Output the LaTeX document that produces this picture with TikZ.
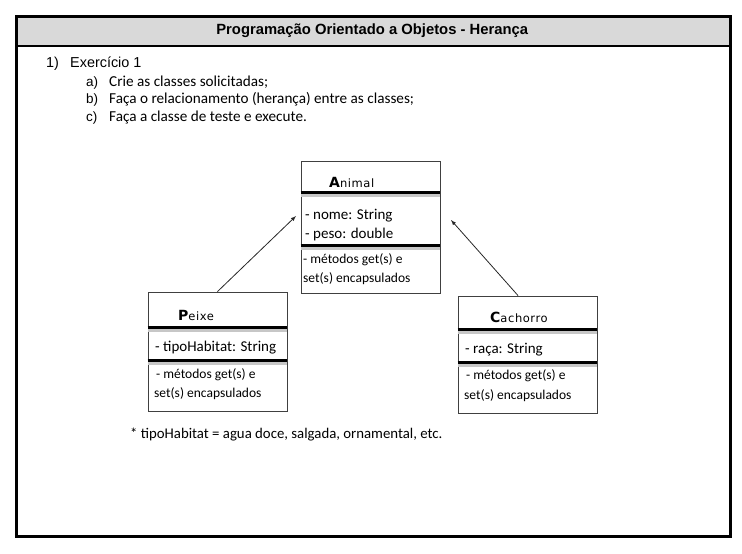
\documentclass[tikz,border=0pt]{standalone}
\usepackage{fontspec}
\setmainfont{Carlito}
\newfontfamily\arialfont{Liberation Sans}
\newfontfamily\namefont{DejaVu Sans}
\newfontfamily\namerest[LetterSpace=5]{DejaVu Sans}
\usepackage{tikz}
\usetikzlibrary{positioning}

\tikzset{
    classbox/.style={draw=black!75, line width=0.9pt, inner sep=0pt},
    sepline/.style={line width=3pt},
    sepshadow/.style={line width=3pt, black!22},
    cname/.style={inner sep=0pt, anchor=base west},
    attr/.style={cname, font=\fontsize{15}{17}\selectfont},
    meth/.style={cname, font=\fontsize{13.5}{15}\selectfont},
}
\newcommand{\classname}[2]{\namefont\fontsize{14}{15}\selectfont\textbf{#1}\namerest\fontsize{11.5}{13}\selectfont #2}

\begin{document}
\begin{tikzpicture}[x=1pt, y=-1pt]
    \useasboundingbox (0,0) rectangle (742,554);
    \node[fill=black!15, minimum width=714, minimum height=31, anchor=north west, inner sep=0pt] (header) at (15,15) {};
    \node[font=\arialfont\bfseries\fontsize{14.8}{17}\selectfont, inner sep=0pt] (titulo) at (header.center) {Programação Orientado a Objetos - Herança};
    \draw[line width=2pt] (header.south west) -- (header.south east);
    \node[draw, line width=2.5pt, minimum width=714, minimum height=520, anchor=north west, inner sep=0pt] (frame) at (15,15) {};

    \node[cname, font=\arialfont\fontsize{14.4}{16}\selectfont] (ex1num) at (46,67) {1)};
    \node[cname, font=\arialfont\fontsize{14.4}{16}\selectfont] (ex1) at (70,67) {Exercício 1};
    \foreach \l/\t [count=\i] in {a/{Crie as classes solicitadas;}, b/{Faça o relacionamento (herança) entre as classes;}, c/{Faça a classe de teste e execute.}} {
        \node[cname, font=\arialfont\fontsize{13.5}{15}\selectfont] (item\l) at (86,{86+17.5*(\i-1)}) {\l)};
        \node[cname, font=\fontsize{15.2}{17}\selectfont] (texto\l) at (109,{86+17.5*(\i-1)}) {\t};
    }

    % Animal
    \node[classbox, minimum width=139, minimum height=132] (animal) at (370.5,227) {};
    \foreach \d in {32,85} {
        \draw[sepshadow] ([yshift=-\d-3]animal.north west) -- ([yshift=-\d-3]animal.north east);
        \draw[sepline] ([yshift=-\d]animal.north west) -- ([yshift=-\d]animal.north east);
    }
    \node[cname] (animalnome) at (329,187) {\classname{A}{nimal}};
    \node[attr] (animalat1) at (305,219) {- nome: String};
    \node[attr] (animalat2) at (305,238) {- peso: double};
    \node[meth] (animalm1) at (303,263) {- métodos get(s) e};
    \node[meth] (animalm2) at (303,282) {set(s) encapsulados};

    % Peixe
    \node[classbox, minimum width=139, minimum height=119] (peixe) at (217.5,351.5) {};
    \foreach \d in {36,69} {
        \draw[sepshadow] ([yshift=-\d-3]peixe.north west) -- ([yshift=-\d-3]peixe.north east);
        \draw[sepline] ([yshift=-\d]peixe.north west) -- ([yshift=-\d]peixe.north east);
    }
    \node[cname] (peixenome) at (178,320) {\classname{P}{eixe}};
    \node[attr] (peixeat1) at (155,351) {- tipoHabitat: String};
    \node[meth] (peixem1) at (156,378) {- métodos get(s) e};
    \node[meth] (peixem2) at (154,397) {set(s) encapsulados};

    % Cachorro
    \node[classbox, minimum width=139, minimum height=117] (cachorro) at (527.5,354.5) {};
    \foreach \d in {34,67} {
        \draw[sepshadow] ([yshift=-\d-3]cachorro.north west) -- ([yshift=-\d-3]cachorro.north east);
        \draw[sepline] ([yshift=-\d]cachorro.north west) -- ([yshift=-\d]cachorro.north east);
    }
    \node[cname] (cachorronome) at (490,322) {\classname{C}{achorro}};
    \node[attr] (cachorroat1) at (465,353) {- raça: String};
    \node[meth] (cachorrom1) at (466,379) {- métodos get(s) e};
    \node[meth] (cachorrom2) at (464,399) {set(s) encapsulados};

    % heranca
    \coordinate (animalesq) at (296,216);
    \coordinate (animaldir) at (451,220);
    \draw[-latex, line width=0.8pt, black!85] (peixe.north) -- (animalesq);
    \draw[-latex, line width=0.8pt, black!85] ([xshift=-9.5pt]cachorro.north) -- (animaldir);

    \node[cname, font=\fontsize{14.8}{16}\selectfont] (nota) at (130,438) {* tipoHabitat = agua doce, salgada, ornamental, etc.};
\end{tikzpicture}
\end{document}
